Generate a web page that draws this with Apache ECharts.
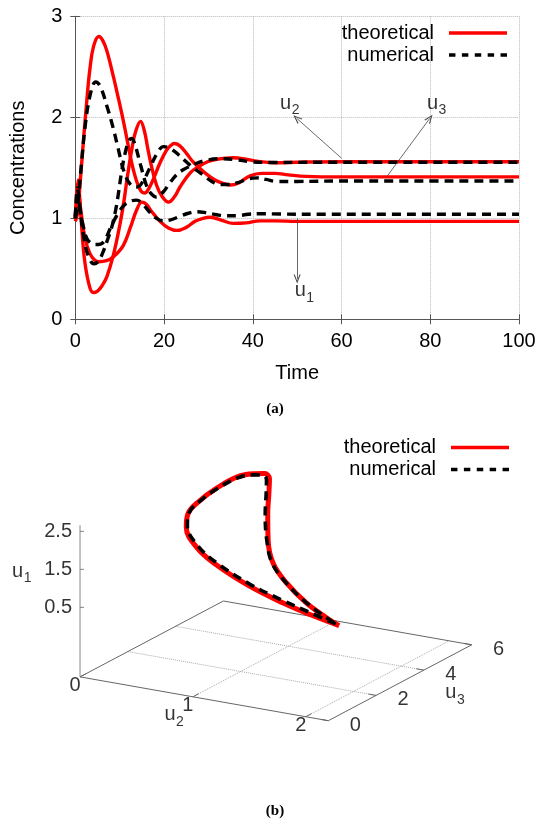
<!DOCTYPE html>
<html><head><meta charset="utf-8">
<script src="https://cdn.jsdelivr.net/npm/echarts@6/dist/echarts.min.js"></script>
<style>html,body{margin:0;padding:0;background:#fff}#c{width:550px;height:830px}</style>
</head><body><div id="c"></div>
<script>
// ================= Panel (a): concentrations vs time =================
const timeTicks = [0, 20, 40, 60, 80, 100];
const concTicks = [0, 1, 2, 3];
// theoretical (red)
const thU1 = [[0,1.00],[0.7,1.24],[1.3,1.06],[2.2,0.80],[3.3,0.65],[4.4,0.585],[5.3,0.57],[7,0.58],[8.6,0.62],[10.8,0.73],[12.5,0.92],[13.8,1.08],[15,1.16],[16,1.14],[17,1.08],[19.1,0.97],[21,0.905],[22.9,0.88],[25,0.91],[27,0.97],[28.8,1.00],[30.4,1.01],[33,0.98],[35.6,0.95],[38.5,0.955],[41.6,0.975],[45,0.975],[50,0.97],[60,0.97],[80,0.97],[100,0.97]];
const thU2 = [[0,1.00],[0.6,1.38],[1.2,1.06],[2,0.62],[3,0.36],[4,0.265],[5,0.28],[6,0.33],[7.1,0.42],[8.6,0.64],[10.1,0.95],[11,1.18],[11.7,1.40],[12.8,1.70],[13.6,1.86],[14.7,1.96],[15.6,1.86],[16.3,1.70],[17.2,1.51],[18.3,1.33],[19.5,1.22],[21,1.16],[22.3,1.21],[23.6,1.31],[25.9,1.45],[27.7,1.51],[29.8,1.56],[31.9,1.585],[35.6,1.60],[38.5,1.585],[40.9,1.565],[45,1.55],[50,1.555],[60,1.56],[100,1.56]];
const thU3 = [[0,0.97],[0.5,1.05],[1.0,1.30],[1.8,1.75],[2.7,2.22],[3.3,2.48],[4.1,2.70],[5.3,2.80],[6.2,2.76],[7.1,2.66],[8.6,2.40],[9.7,2.19],[10.8,1.97],[11.8,1.75],[12.7,1.55],[13.8,1.37],[14.8,1.27],[15.6,1.25],[16.5,1.29],[17.8,1.41],[19,1.54],[20.5,1.67],[21.5,1.72],[22.3,1.74],[23.5,1.72],[25.1,1.64],[26.5,1.56],[27.7,1.51],[29.5,1.44],[31.1,1.39],[33,1.35],[34.9,1.33],[36.8,1.35],[39.4,1.42],[42,1.445],[45,1.445],[48,1.43],[52,1.415],[60,1.41],[100,1.41]];
// numerical (black dashed)
const nuU1 = [[0,1.02],[0.5,1.22],[1.0,1.10],[1.8,0.92],[2.6,0.80],[3.5,0.755],[4.5,0.74],[5.7,0.745],[6.6,0.78],[8,0.91],[9.5,1.04],[11,1.13],[12.5,1.17],[13.8,1.18],[15,1.15],[16.8,1.06],[18.3,1.00],[19.8,0.975],[21.5,0.985],[23.6,1.02],[25.5,1.05],[27.4,1.065],[29.5,1.055],[31.9,1.035],[34,1.025],[36.4,1.025],[39,1.04],[42,1.045],[46,1.042],[55,1.04],[100,1.04]];
const nuU2 = [[0,1.00],[0.5,1.30],[1.0,1.12],[2,0.79],[3,0.62],[4.2,0.55],[5.2,0.575],[6.2,0.66],[7.2,0.78],[8.2,0.91],[9.0,1.06],[9.7,1.24],[10.4,1.45],[11.2,1.64],[12.1,1.77],[12.7,1.79],[13.3,1.75],[14.7,1.53],[16,1.33],[17,1.25],[18.3,1.21],[19.8,1.26],[21.3,1.35],[22.8,1.43],[24.3,1.48],[26.6,1.53],[29.6,1.575],[33.4,1.59],[36.4,1.58],[39.4,1.56],[45,1.553],[55,1.555],[100,1.555]];
const nuU3 = [[0,1.00],[0.6,1.15],[1.2,1.45],[2.3,1.94],[3.5,2.25],[4.6,2.35],[5.6,2.31],[7.2,2.10],[8.5,1.90],[9.5,1.72],[11,1.46],[12.5,1.33],[13.9,1.31],[15.3,1.37],[16.8,1.50],[18.4,1.64],[19.9,1.71],[21.5,1.69],[23.5,1.62],[25,1.56],[26.6,1.50],[28.8,1.43],[30.6,1.37],[32.6,1.335],[34.5,1.335],[36.4,1.35],[39,1.39],[40.9,1.40],[43,1.385],[45.4,1.365],[50,1.365],[60,1.37],[100,1.37]];
// annotations: arrows [tail, head] and labels (u with subscript)
const arrowTails = [[60.0,1.595],[70.2,1.412],[50.0,1.00]];
const arrowHeads = [[49.9,1.99],[79.9,1.99],[50.0,0.40]];
const annLabelT = [47.4, 80.5, 50.7];
const annLabelV = [2.14, 2.14, 0.283];
const annLabelSub = ['2', '3', '1'];

// ================= Panel (b): 3-D phase portrait (u2, u3, u1) =================
const U2_RANGE = [0, 2.2], U3_RANGE = [0, 6], U1_RANGE = [0, 2.66];
const U2_TICKS = [0, 1, 2], U3_TICKS = [0, 2, 4, 6], U1_TICKS = [0.5, 1.5, 2.5];
const thB_u2 = [1.76,1.53,1.32,1.04,0.71,0.49,0.34,0.28,0.29,0.32,0.37,0.47,0.55,0.62,0.71,0.81,0.93,1.04,1.19,1.41,1.63,1.76];
const thB_u3 = [2.53,2.42,2.27,2.22,2.36,2.55,2.84,3.20,3.66,4.18,4.81,5.05,5.13,5.00,4.55,4.03,3.48,3.17,3.03,2.81,2.63,2.53];
const thB_u1 = [0.10,0.30,0.55,0.85,1.20,1.50,1.85,2.05,2.25,2.40,2.52,2.58,2.60,2.55,2.35,2.05,1.60,1.15,0.75,0.42,0.20,0.10];
const nuB_u2 = [1.73,1.52,1.31,1.03,0.71,0.50,0.35,0.29,0.30,0.33,0.38,0.47,0.54,0.60,0.69,0.79,0.92,1.03,1.18,1.40,1.61,1.73];
const nuB_u3 = [2.53,2.42,2.27,2.22,2.36,2.55,2.84,3.19,3.64,4.16,4.78,5.02,5.09,4.97,4.53,4.02,3.47,3.17,3.03,2.81,2.63,2.53];
const nuB_u1 = [0.13,0.36,0.62,0.92,1.26,1.55,1.88,2.07,2.26,2.40,2.51,2.56,2.57,2.52,2.33,2.04,1.60,1.16,0.77,0.45,0.23,0.13];

// ---------- view / projection (gnuplot-like orthographic view) ----------
const VIEW = { rotX: 72.2, rotZ: 30, ticslevel: 0.5, zStretch: 1.111 };
const SCALE_B = 143.35, CX_B = 275.85, CY_B = 660.85;
const rx = VIEW.rotX * Math.PI / 180, rz = VIEW.rotZ * Math.PI / 180;
const ZBASE = U1_RANGE[0] - VIEW.ticslevel * (U1_RANGE[1] - U1_RANGE[0]);
function project(u2, u3, u1) {
  const nx = 2 * (u2 - U2_RANGE[0]) / (U2_RANGE[1] - U2_RANGE[0]) - 1;
  const ny = 2 * (u3 - U3_RANGE[0]) / (U3_RANGE[1] - U3_RANGE[0]) - 1;
  const nz = (u1 - ZBASE) / (U1_RANGE[1] - ZBASE);
  const sx = nx * Math.cos(rz) + ny * Math.sin(rz);
  const sy = (-nx * Math.sin(rz) + ny * Math.cos(rz)) * Math.cos(rx) + nz * Math.sin(rx) * VIEW.zStretch;
  return [sx, sy];
}
const corners = [];
U2_RANGE.forEach(a => U3_RANGE.forEach(b => [ZBASE, U1_RANGE[1]].forEach(c => corners.push(project(a, b, c)))));
const SXR = [Math.min(...corners.map(p => p[0])), Math.max(...corners.map(p => p[0]))];
const SYR = [Math.min(...corners.map(p => p[1])), Math.max(...corners.map(p => p[1]))];

const projSeries = (a2, a3, a1) => a2.map((v, i) => project(v, a3[i], a1[i]));
const frameB = [[U2_RANGE[0],U3_RANGE[0]],[U2_RANGE[1],U3_RANGE[0]],[U2_RANGE[1],U3_RANGE[1]],[U2_RANGE[0],U3_RANGE[1]],[U2_RANGE[0],U3_RANGE[0]]].map(p => project(p[0], p[1], ZBASE));
const zAxisB = [project(U2_RANGE[0], U3_RANGE[0], ZBASE), project(U2_RANGE[0], U3_RANGE[0], U1_RANGE[1])];
const gridLinesB = [];
U2_TICKS.filter(t => t > U2_RANGE[0] && t < U2_RANGE[1]).forEach(t => gridLinesB.push({ coords: [project(t, U3_RANGE[0], ZBASE), project(t, U3_RANGE[1], ZBASE)] }));
U3_TICKS.filter(t => t > U3_RANGE[0] && t < U3_RANGE[1]).forEach(t => gridLinesB.push({ coords: [project(U2_RANGE[0], t, ZBASE), project(U2_RANGE[1], t, ZBASE)] }));
const tickLen2 = 0.04 * (U3_RANGE[1] - U3_RANGE[0]), tickLen3 = 0.03 * (U2_RANGE[1] - U2_RANGE[0]);
const tickSegsB = [];
U2_TICKS.forEach(t => tickSegsB.push({ coords: [project(t, U3_RANGE[0], ZBASE), project(t, U3_RANGE[0] + tickLen2, ZBASE)] }));
U3_TICKS.forEach(t => tickSegsB.push({ coords: [project(U2_RANGE[1], t, ZBASE), project(U2_RANGE[1] - tickLen3, t, ZBASE)] }));
// axis-name anchors in 3-D and the subscript of each name
const nameAnchorsB = [
  { pos: project(U2_RANGE[0], U3_RANGE[0], 1.5), sub: '1', off: [-62.5, 2] },
  { pos: project(0.85, U3_RANGE[0], ZBASE), sub: '2', off: [-6, 21] },
  { pos: project(U2_RANGE[1], 4.5, ZBASE), sub: '3', off: [15, 29] }
];

const FONT = 'Liberation Sans, Arial, Helvetica, sans-serif';
const FS = 20, FS_SUB = 14;
const SUB_SHIFT = [10, 7];
const AX = '#555', GRIDC = '#b8b8b8';

// legend sample icons (solid bar / dashed bar)
const ICON_SOLID = 'path://M0,0H58V3.4H0Z';
const ICON_DASH = 'path://M0,0h6.5v3.4h-6.5z M13,0h6.5v3.4h-6.5z M26,0h6.5v3.4h-6.5z M39,0h6.5v3.4h-6.5z M52,0h6.5v3.4h-6.5z';

const chart = echarts.init(document.getElementById('c'), null, { renderer: 'canvas' });
const redA = { color: '#ff0000', width: 3.4 };
const blkA = { color: '#000', width: 3.4, type: [9, 6] };
const lineA = (name, data, ls, z) => ({
  type: 'line', name, data, xAxisIndex: 0, yAxisIndex: 0, showSymbol: false, symbol: 'none',
  smooth: 0.4, lineStyle: ls, itemStyle: { color: ls.color }, z, silent: true
});
const axisCommon = {
  axisLine: { show: true, lineStyle: { color: AX, width: 1 } },
  axisTick: { show: true, inside: true, length: 5, lineStyle: { color: AX } }
};
const legendCommon = {
  orient: 'vertical', align: 'right', itemWidth: 58, itemHeight: 3.4, itemGap: 2, padding: 0,
  symbolKeepAspect: false,
  textStyle: { fontFamily: FONT, fontSize: FS, color: '#000', lineHeight: 20, padding: [0, 10, 0, 0] },
  itemStyle: { borderWidth: 0 },
  selectedMode: false
};
// text-only scatter layer (labels placed through the axes)
const textLayer = (name, xi, data, size, offset) => ({
  type: 'scatter', name, xAxisIndex: xi, yAxisIndex: xi, silent: true, clip: false,
  symbolSize: 0, itemStyle: { color: '#000' }, data, z: 6,
  label: { show: true, position: 'inside', offset: offset || [0, 0], formatter: p => String(p.value[2]),
    fontFamily: FONT, fontSize: size, color: '#000', textBorderWidth: 0 }
});
const addOff = (a, b) => [a[0] + b[0], a[1] + b[1]];

const option = {
  animation: false,
  backgroundColor: '#fff',
  title: [
    { text: '(a)', left: 'center', top: 402, padding: 0, textStyle: { fontFamily: 'Liberation Serif, serif', fontWeight: 'bold', fontSize: 15, color: '#000' } },
    { text: '(b)', left: 'center', top: 804, padding: 0, textStyle: { fontFamily: 'Liberation Serif, serif', fontWeight: 'bold', fontSize: 15, color: '#000' } }
  ],
  legend: [
    Object.assign({}, legendCommon, { right: 43, top: 23, data: [
      { name: 'theoretical', icon: ICON_SOLID },
      { name: 'numerical', icon: ICON_DASH }
    ] }),
    Object.assign({}, legendCommon, { right: 41, top: 437.5, data: [
      { name: 'theoretical', icon: ICON_SOLID },
      { name: 'numerical', icon: ICON_DASH }
    ] })
  ],
  grid: [
    { left: 75.3, right: 31, top: 16.3, bottom: 510.7, containLabel: false, outerBoundsMode: 'none' },
    { left: CX_B + SXR[0] * SCALE_B, top: CY_B - SYR[1] * SCALE_B, width: (SXR[1] - SXR[0]) * SCALE_B, height: (SYR[1] - SYR[0]) * SCALE_B, containLabel: false, outerBoundsMode: 'none' }
  ],
  xAxis: [
    Object.assign({ type: 'value', gridIndex: 0, min: timeTicks[0], max: timeTicks[timeTicks.length - 1], interval: timeTicks[1] - timeTicks[0],
      name: 'Time', nameLocation: 'middle', nameGap: 44, nameTextStyle: { fontFamily: FONT, fontSize: FS, color: '#000' },
      axisLabel: { fontFamily: FONT, fontSize: FS, color: '#000', margin: 12 },
      splitLine: { show: true, lineStyle: { color: GRIDC, type: 'dotted', width: 1 } } }, axisCommon),
    Object.assign({ type: 'value', gridIndex: 0, position: 'top', min: timeTicks[0], max: timeTicks[timeTicks.length - 1], interval: timeTicks[1] - timeTicks[0],
      axisLabel: { show: false }, splitLine: { show: false } }, axisCommon),
    { type: 'value', gridIndex: 1, min: SXR[0], max: SXR[1], show: false }
  ],
  yAxis: [
    Object.assign({ type: 'value', gridIndex: 0, min: concTicks[0], max: concTicks[concTicks.length - 1], interval: concTicks[1] - concTicks[0],
      name: 'Concentrations', nameLocation: 'middle', nameGap: 47, nameRotate: 90, nameTextStyle: { fontFamily: FONT, fontSize: FS, color: '#000' },
      axisLabel: { fontFamily: FONT, fontSize: FS, color: '#000', margin: 13 },
      splitLine: { show: true, lineStyle: { color: GRIDC, type: 'dotted', width: 1 } } }, axisCommon),
    Object.assign({ type: 'value', gridIndex: 0, position: 'right', min: concTicks[0], max: concTicks[concTicks.length - 1], interval: concTicks[1] - concTicks[0],
      axisLabel: { show: false }, splitLine: { show: false } }, axisCommon),
    { type: 'value', gridIndex: 1, min: SYR[0], max: SYR[1], show: false }
  ],
  series: [
    lineA('theoretical', thU1, redA, 2),
    lineA('theoretical', thU2, redA, 2),
    lineA('theoretical', thU3, redA, 2),
    lineA('numerical', nuU1, blkA, 3),
    lineA('numerical', nuU2, blkA, 3),
    lineA('numerical', nuU3, blkA, 3),
    {
      type: 'line', name: 'arrows', data: [], xAxisIndex: 0, yAxisIndex: 0, silent: true,
      markLine: {
        silent: true, animation: false,
        symbol: ['none', 'path://M5,0 L10,12 L8.4,12 L5,3.6 L1.6,12 L0,12 Z'], symbolSize: [7, 9],
        label: { show: false },
        lineStyle: { color: '#444', width: 0.8, type: 'solid' },
        data: arrowTails.map((t, i) => [{ coord: t }, { coord: arrowHeads[i] }])
      }
    },
    textLayer('labelsA_u', 0, annLabelT.map((t, i) => [t, annLabelV[i], 'u']), FS),
    textLayer('labelsA_sub', 0, annLabelT.map((t, i) => [t, annLabelV[i], annLabelSub[i]]), FS_SUB, SUB_SHIFT),
    // ---- panel (b) ----
    { type: 'lines', name: 'gridB', coordinateSystem: 'cartesian2d', xAxisIndex: 2, yAxisIndex: 2, silent: true,
      lineStyle: { color: '#aaa', width: 1, type: 'dotted', opacity: 1 }, data: gridLinesB, z: 1 },
    { type: 'lines', name: 'ticksB', coordinateSystem: 'cartesian2d', xAxisIndex: 2, yAxisIndex: 2, silent: true,
      lineStyle: { color: '#666', width: 1, type: 'solid', opacity: 1 }, data: tickSegsB, z: 1 },
    { type: 'line', name: 'frameB', xAxisIndex: 2, yAxisIndex: 2, data: frameB, symbol: 'none', silent: true, clip: false,
      lineStyle: { color: '#666', width: 1 }, z: 1 },
    { type: 'line', name: 'zAxisB', xAxisIndex: 2, yAxisIndex: 2, data: zAxisB, symbol: 'none', silent: true, clip: false,
      lineStyle: { color: '#888', width: 1 }, z: 1 },
    { type: 'scatter', name: 'zTicksB', xAxisIndex: 2, yAxisIndex: 2, silent: true, clip: false,
      symbol: 'rect', symbolSize: [4, 1], symbolOffset: [2, 0], itemStyle: { color: '#666' },
      data: U1_TICKS.map(t => project(U2_RANGE[0], U3_RANGE[0], t).concat([t])),
      label: { show: true, position: 'left', distance: 8, formatter: p => String(p.value[2]), fontFamily: FONT, fontSize: FS, color: '#000' } },
    textLayer('u2TicksB', 2, U2_TICKS.map(t => project(t, U3_RANGE[0], ZBASE).concat([t])), FS, [-5, 8.5]),
    textLayer('u3TicksB', 2, U3_TICKS.map(t => project(U2_RANGE[1], t, ZBASE).concat([t])), FS, [27, 4.5]),
    textLayer('namesB_u', 2, nameAnchorsB.map(a => ({ value: a.pos.concat(['u']), label: { offset: a.off } })), FS),
    textLayer('namesB_sub', 2, nameAnchorsB.map(a => ({ value: a.pos.concat([a.sub]), label: { offset: addOff(a.off, SUB_SHIFT) } })), FS_SUB),
    { type: 'line', name: 'theoretical', xAxisIndex: 2, yAxisIndex: 2, data: projSeries(thB_u2, thB_u3, thB_u1),
      symbol: 'none', smooth: 0.4, clip: false, silent: true, lineStyle: { color: '#ff0000', width: 5 }, itemStyle: { color: '#ff0000' }, z: 4 },
    { type: 'line', name: 'numerical', xAxisIndex: 2, yAxisIndex: 2, data: projSeries(nuB_u2, nuB_u3, nuB_u1),
      symbol: 'none', smooth: 0.4, clip: false, silent: true, lineStyle: { color: '#000', width: 3.6, type: [9, 6] }, itemStyle: { color: '#000' }, z: 5 }
  ]
};
chart.setOption(option);
</script>
</body></html>
